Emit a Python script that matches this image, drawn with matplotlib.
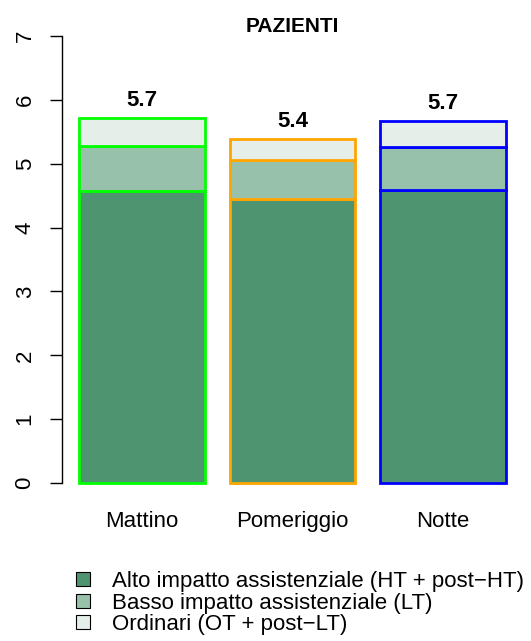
'''
plot.py
Stacked bars of patient load by shift (PAZIENTI), R barplot look.
'''
import matplotlib
matplotlib.use('Agg')
import matplotlib.pyplot as plt
from matplotlib.patches import Rectangle

plt.rcParams['font.family'] = ['Liberation Sans', 'DejaVu Sans']

# data
turni       = ['Mattino', 'Pomeriggio', 'Notte']
alto        = [4.57, 4.45, 4.59]      # HT + post-HT
basso       = [0.71, 0.61, 0.67]      # LT
ordinari    = [0.44, 0.33, 0.40]      # OT + post-LT
bordi       = ['#00FF00', '#FFA500', '#0000FF']
serie_nomi  = ['Alto impatto assistenziale (HT + post\u2212HT)',
               'Basso impatto assistenziale (LT)',
               'Ordinari (OT + post\u2212LT)']
serie_col   = ['#4E9470', '#98C1AB', '#E5EEE9']
titolo      = 'PAZIENTI'

# figure in pixels: 531 x 641
W, H = 531, 641
fig = plt.figure(figsize=(W/100, H/100), dpi=100)
# plot region, pixel coords: x 62..523, y 18..501 (from top)
ax = fig.add_axes([62/W, (H-501)/H, (523-62)/W, (501-18)/H])

# R barplot geometry: width 1, space 0.2
xc = [0.7 + 1.2*i for i in range(len(turni))]
bottom = [0.0]*len(turni)
for vals, col in zip([alto, basso, ordinari], serie_col):
    ax.bar(xc, vals, width=1.0, bottom=bottom, color=col,
           edgecolor=bordi, linewidth=2.0)
    bottom = [b + v for b, v in zip(bottom, vals)]

# totals above bars
for x, tot in zip(xc, bottom):
    ax.text(x, tot + 0.19, '%.1f' % tot, ha='center', va='baseline',
            fontsize=16, fontweight='bold')

ax.set_xlim(0.064, 3.736)
ax.set_ylim(-0.28, 7.28)

for s in ['top', 'right', 'bottom']:
    ax.spines[s].set_visible(False)
ax.spines['left'].set_bounds(0, 7)
ax.spines['left'].set_linewidth(1.0)

ax.set_yticks(range(0, 8))
ax.set_yticklabels([str(i) for i in range(0, 8)], rotation=90,
                   va='center', fontsize=16)
ax.tick_params(axis='y', length=9, width=1.0, pad=10)
ax.set_xticks(xc)
ax.set_xticklabels(turni, fontsize=16)
ax.tick_params(axis='x', length=0, pad=7)

# title
fig.text(292/W, (H-31.7)/H, titolo, ha='center', va='baseline',
         fontsize=15, fontweight='bold')

# legend drawn by hand, R style
for i, (nome, col) in enumerate(zip(serie_nomi, serie_col)):
    yc = 579 + 21.5*i
    fig.patches.append(Rectangle((76/W, (H-yc-7)/H), 14/W, 14/H,
                                 transform=fig.transFigure,
                                 facecolor=col, edgecolor='black',
                                 linewidth=0.8))
    fig.text(112/W, (H-yc)/H, nome, ha='left', va='center_baseline',
             fontsize=16)

fig.savefig('out.png', dpi=100)
